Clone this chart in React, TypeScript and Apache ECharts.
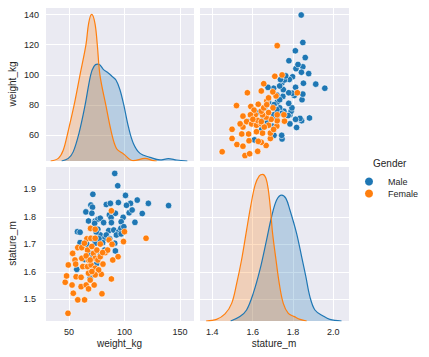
import React, { useEffect, useRef } from 'react';
import * as echarts from 'echarts';

// ---- data ----
const maleWeight = [91.2, 93.9, 71.5, 100.9, 111.5, 121.5, 139.7, 69.7, 71.2, 83.6, 87.3, 94.5, 105.4, 101.8, 104.2, 106.9, 116.0, 65.2, 70.6, 91.8, 86.4, 67.6, 73.6, 76.0, 78.2, 81.2, 87.9, 88.2, 98.8, 97.0, 109.4, 57.6, 60.0, 73.1, 76.0, 85.8, 90.3, 94.8, 96.7, 99.4, 92.7, 97.0, 78.2, 82.1, 83.6, 86.7, 91.2, 91.8, 60.0, 73.6, 80.3, 82.1, 69.1, 71.5, 57.0, 63.9, 78.2, 69.1, 75.1, 74.5, 77.0, 71.0, 66.0];
const maleStature = [1.958, 1.913, 1.882, 1.878, 1.861, 1.849, 1.841, 1.843, 1.835, 1.845, 1.849, 1.852, 1.849, 1.842, 1.815, 1.825, 1.812, 1.818, 1.813, 1.813, 1.807, 1.785, 1.785, 1.791, 1.795, 1.779, 1.797, 1.779, 1.798, 1.782, 1.780, 1.746, 1.744, 1.776, 1.755, 1.750, 1.752, 1.746, 1.758, 1.764, 1.734, 1.738, 1.734, 1.722, 1.734, 1.720, 1.704, 1.676, 1.706, 1.704, 1.706, 1.679, 1.667, 1.653, 1.609, 1.645, 1.660, 1.577, 1.631, 1.745, 1.720, 1.720, 1.700];
const femaleWeight = [88.2, 100.0, 119.4, 99.1, 69.4, 73.6, 66.1, 69.7, 73.6, 78.2, 86.1, 88.8, 94.2, 89.4, 88.2, 79.1, 79.7, 64.0, 57.9, 53.9, 49.1, 46.6, 47.8, 49.4, 52.8, 53.3, 55.4, 56.4, 57.9, 61.5, 61.5, 62.4, 60.9, 60.9, 65.5, 67.6, 72.7, 69.1, 67.6, 66.7, 67.6, 66.7, 70.6, 72.1, 75.1, 73.6, 76.0, 78.2, 69.9, 73.6, 76.7, 73.6, 70.6, 82.7, 84.8, 80.3, 63.9, 65.5, 56.0, 69.1, 80.6];
const femaleStature = [1.822, 1.746, 1.722, 1.710, 1.758, 1.755, 1.720, 1.722, 1.722, 1.701, 1.716, 1.700, 1.655, 1.643, 1.574, 1.591, 1.520, 1.498, 1.498, 1.522, 1.449, 1.562, 1.585, 1.625, 1.552, 1.667, 1.643, 1.582, 1.688, 1.688, 1.649, 1.619, 1.580, 1.546, 1.552, 1.538, 1.552, 1.570, 1.595, 1.619, 1.643, 1.679, 1.692, 1.667, 1.679, 1.649, 1.643, 1.655, 1.625, 1.613, 1.607, 1.589, 1.601, 1.670, 1.679, 1.670, 1.704, 1.658, 1.628, 1.643, 1.628];

// KDE curves (x, relative density)
const maleWeightKde = [[43.4, 0], [49.4, 0.018], [53.9, 0.064], [59.0, 0.189], [64.4, 0.377], [69.5, 0.586], [72.5, 0.645], [75.5, 0.66], [77.9, 0.655], [80.9, 0.625], [85.4, 0.6], [88.4, 0.58], [92.3, 0.552], [95.9, 0.486], [99.5, 0.377], [103.5, 0.234], [108.0, 0.12], [114.0, 0.052], [123.0, 0.025], [132.0, 0.007], [139.5, 0.016], [147.0, 0.007], [156.6, 0]];
const femaleWeightKde = [[33.5, 0], [40.4, 0.018], [44.9, 0.075], [48.8, 0.189], [54.5, 0.377], [59.9, 0.586], [65.3, 0.793], [67.7, 0.939], [70.4, 1.0], [73.4, 0.939], [75.5, 0.793], [77.9, 0.586], [83.3, 0.377], [88.4, 0.189], [92.9, 0.084], [98.9, 0.05], [108.0, 0.002], [118.5, 0.018], [126.0, 0.002], [129.0, 0]];
const maleStatureKde = [[1.491, 0], [1.537, 0.03], [1.57, 0.075], [1.603, 0.188], [1.636, 0.348], [1.669, 0.552], [1.694, 0.711], [1.719, 0.825], [1.744, 0.859], [1.765, 0.836], [1.785, 0.757], [1.818, 0.598], [1.843, 0.439], [1.864, 0.302], [1.884, 0.166], [1.909, 0.075], [1.95, 0.034], [1.983, 0.011], [2.041, 0]];
const femaleStatureKde = [[1.369, 0], [1.421, 0.011], [1.463, 0.048], [1.496, 0.12], [1.521, 0.257], [1.545, 0.416], [1.57, 0.62], [1.59, 0.78], [1.612, 0.927], [1.633, 0.989], [1.65, 1.0], [1.666, 0.973], [1.678, 0.893], [1.689, 0.757], [1.699, 0.598], [1.716, 0.416], [1.732, 0.257], [1.752, 0.12], [1.777, 0.052], [1.807, 0.03], [1.835, 0.011], [1.868, 0]];

const genders = ['Male', 'Female'];
const weightRange = [28.4, 162.6];
const weightRangeY = [43, 145];
const statureRangeX = [1.334, 2.078];
const statureRangeY = [1.421, 1.985];

const FONT = '"Liberation Sans", Arial, Helvetica, sans-serif';
const TXT = '#262626';
const BLUE = '#1f77b4';
const ORANGE = '#ff7f0e';

const pairs = (a: number[], b: number[]) => a.map((v, i) => [v, b[i]]);

function axis(gridIndex: number, range: number[], splitNumber: number, showLabel: boolean, extra: any = {}) {
  return {
    type: 'value',
    gridIndex,
    min: range[0],
    max: range[1],
    splitNumber,
    axisLine: { show: false },
    axisTick: { show: false },
    splitLine: { show: true, lineStyle: { color: '#ffffff', width: 1 } },
    axisLabel: {
      show: showLabel,
      showMinLabel: false,
      showMaxLabel: false,
      color: TXT,
      fontSize: 9,
      fontFamily: FONT,
      margin: 6,
    },
    nameTextStyle: { color: TXT, fontSize: 10, fontFamily: FONT },
    ...extra,
  };
}

const densityAxis = (gridIndex: number, max: number) => ({
  type: 'value', gridIndex, min: 0, max, show: false, splitLine: { show: false },
});

export default function App() {
  const ref = useRef<HTMLDivElement>(null);
  useEffect(() => {
    if (!ref.current) return;
    const chart = echarts.init(ref.current, undefined, { renderer: 'svg' });
    const fmt1 = (v: number) => v.toFixed(1);
    const gridBase = { show: true, backgroundColor: '#EAEAF2', borderWidth: 0, containLabel: false };
    const scatterStyle = (c: string) => ({ color: c, borderColor: '#ffffff', borderWidth: 0.6, opacity: 1 });
    const kde = (name: string, data: number[][], c: string, xi: number, yi: number) => ({
      name,
      type: 'line',
      data,
      xAxisIndex: xi,
      yAxisIndex: yi,
      smooth: 0.35,
      showSymbol: false,
      symbol: 'none',
      lineStyle: { color: c, width: 1.2 },
      itemStyle: { color: c },
      areaStyle: { color: c, opacity: 0.25 },
      silent: true,
    });
    chart.setOption({
      animation: false,
      textStyle: { fontFamily: FONT },
      grid: [
        { ...gridBase, left: 45, top: 7, width: 149, height: 154 },
        { ...gridBase, left: 199, top: 7, width: 150, height: 154 },
        { ...gridBase, left: 45, top: 166, width: 149, height: 155 },
        { ...gridBase, left: 199, top: 166, width: 150, height: 155 },
      ],
      xAxis: [
        axis(0, weightRange, 3, false),
        axis(1, statureRangeX, 4, false),
        axis(2, weightRange, 3, true, { name: 'weight_kg', nameLocation: 'middle', nameGap: 17 }),
        axis(3, statureRangeX, 4, true, { name: 'stature_m', nameLocation: 'middle', nameGap: 17, axisLabel: { show: true, showMinLabel: false, showMaxLabel: false, color: TXT, fontSize: 9, fontFamily: FONT, margin: 6, formatter: fmt1 } }),
      ],
      yAxis: [
        axis(0, weightRangeY, 5, true, { name: 'weight_kg', nameLocation: 'middle', nameGap: 28 }),
        densityAxis(0, 1.05),
        axis(1, weightRangeY, 5, false),
        axis(2, statureRangeY, 5, true, { name: 'stature_m', nameLocation: 'middle', nameGap: 28, axisLabel: { show: true, showMinLabel: false, showMaxLabel: false, color: TXT, fontSize: 9, fontFamily: FONT, margin: 9, formatter: fmt1 } }),
        axis(3, statureRangeY, 5, false),
        densityAxis(3, 1.057),
      ],
      legend: {
        data: genders,
        orient: 'vertical',
        left: 360,
        top: 172,
        icon: 'circle',
        itemWidth: 8,
        itemHeight: 8,
        itemGap: 3,
        textStyle: { color: TXT, fontSize: 9, fontFamily: FONT, padding: [0, 0, 0, 10] },
      },
      graphic: [
        { type: 'text', left: 373, top: 158, style: { text: 'Gender', fill: TXT, fontSize: 10, fontFamily: FONT } },
      ],
      series: [
        kde('Male', maleWeightKde, BLUE, 0, 1),
        kde('Female', femaleWeightKde, ORANGE, 0, 1),
        { name: 'Male', type: 'scatter', xAxisIndex: 1, yAxisIndex: 2, symbolSize: 6.5, data: pairs(maleStature, maleWeight), itemStyle: scatterStyle(BLUE) },
        { name: 'Female', type: 'scatter', xAxisIndex: 1, yAxisIndex: 2, symbolSize: 6.5, data: pairs(femaleStature, femaleWeight), itemStyle: scatterStyle(ORANGE) },
        { name: 'Male', type: 'scatter', xAxisIndex: 2, yAxisIndex: 3, symbolSize: 6.5, data: pairs(maleWeight, maleStature), itemStyle: scatterStyle(BLUE) },
        { name: 'Female', type: 'scatter', xAxisIndex: 2, yAxisIndex: 3, symbolSize: 6.5, data: pairs(femaleWeight, femaleStature), itemStyle: scatterStyle(ORANGE) },
        kde('Male', maleStatureKde, BLUE, 3, 5),
        kde('Female', femaleStatureKde, ORANGE, 3, 5),
      ],
    });
    return () => chart.dispose();
  }, []);
  return <div ref={ref} style={{ position: 'absolute', left: 0, top: 0, width: 429, height: 357 }} />;
}
